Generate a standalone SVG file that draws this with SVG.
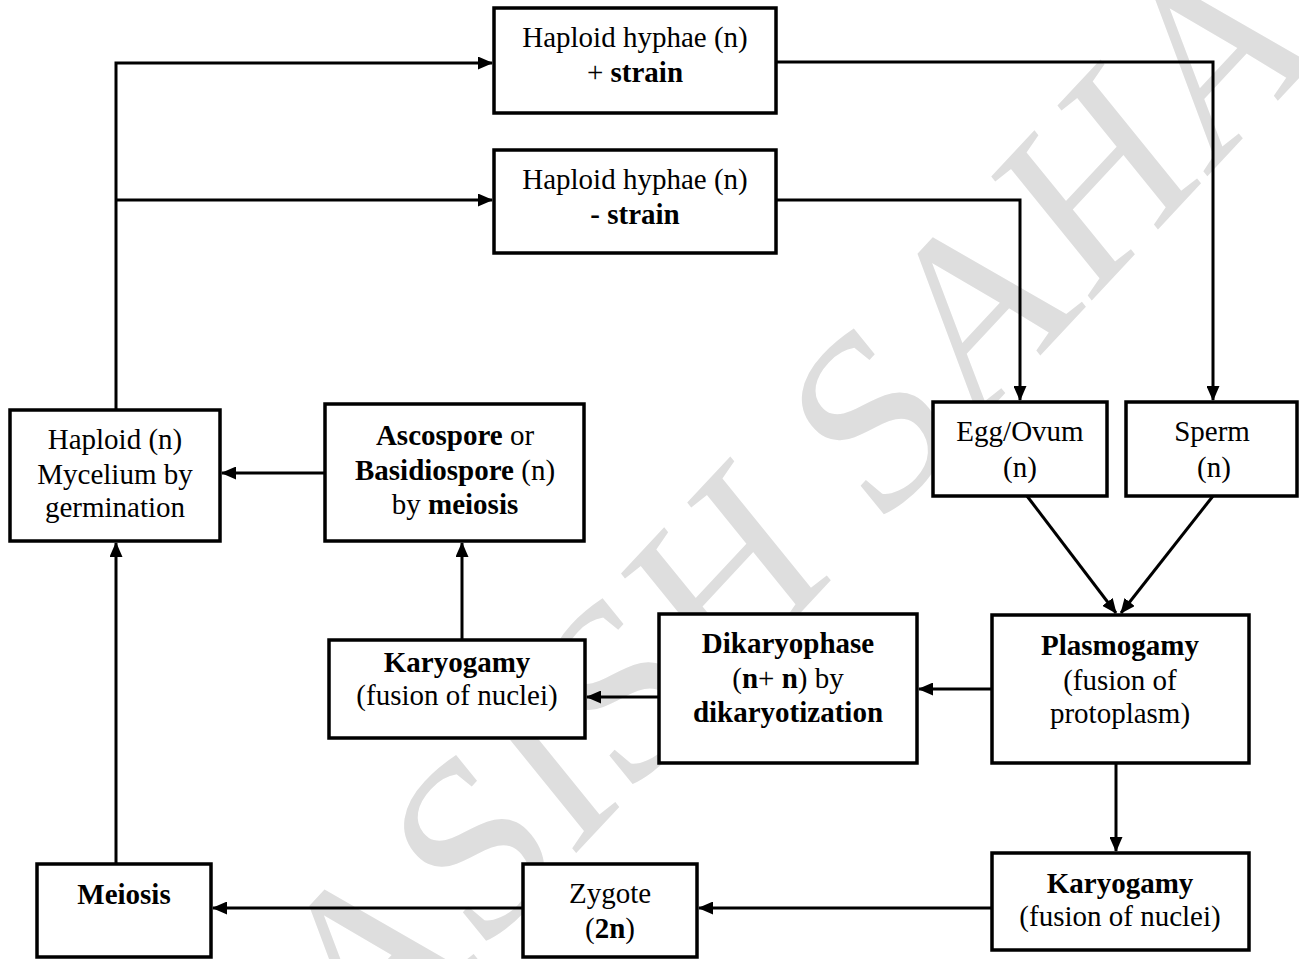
<svg xmlns="http://www.w3.org/2000/svg" width="1299" height="959" viewBox="0 0 1299 959">
<style>
.box{fill:#fff;stroke:#000;stroke-width:3.5}
.t{font-family:"Liberation Serif","Times New Roman",serif;font-size:29px;fill:#000;text-anchor:middle}
.b{font-weight:bold}
.c{fill:none;stroke:#000;stroke-width:3}
.wm{font-family:"Liberation Serif","Times New Roman",serif;font-size:225px;fill:#dedede}
</style>
<defs>
<marker id="ah" markerUnits="userSpaceOnUse" markerWidth="15" markerHeight="13" refX="14" refY="6.5" orient="auto">
<path d="M0,0 L15,6.5 L0,13 z" fill="#000"/>
</marker>
</defs>
<rect width="1299" height="959" fill="#fff"/>
<text class="wm" transform="translate(360,1085) scale(1,1.15) rotate(-43)">ASISH SAHA</text>
<g id="connectors">
<path class="c" d="M116 410 V63 H492" marker-end="url(#ah)"/>
<path class="c" d="M116 200 H492" marker-end="url(#ah)"/>
<path class="c" d="M776 62 H1213 V400" marker-end="url(#ah)"/>
<path class="c" d="M776 200 H1020 V400" marker-end="url(#ah)"/>
<path class="c" d="M1027 496 L1116 613" marker-end="url(#ah)"/>
<path class="c" d="M1213 496 L1121 613" marker-end="url(#ah)"/>
<path class="c" d="M992 689 H919" marker-end="url(#ah)"/>
<path class="c" d="M659 697 H587" marker-end="url(#ah)"/>
<path class="c" d="M462 640 V543" marker-end="url(#ah)"/>
<path class="c" d="M325 473 H222" marker-end="url(#ah)"/>
<path class="c" d="M1116 763 V851" marker-end="url(#ah)"/>
<path class="c" d="M992 908 H699" marker-end="url(#ah)"/>
<path class="c" d="M523 908 H213" marker-end="url(#ah)"/>
<path class="c" d="M116 864 V543" marker-end="url(#ah)"/>
</g>
<g id="hyphae-plus">
<rect class="box" x="494" y="8" width="282" height="105"/>
<text class="t" x="635" y="47">Haploid hyphae (n)</text>
<text class="t" x="635" y="82">+ <tspan class="b">strain</tspan></text>
</g>
<g id="hyphae-minus">
<rect class="box" x="494" y="150" width="282" height="103"/>
<text class="t" x="635" y="189">Haploid hyphae (n)</text>
<text class="t b" x="635" y="224">- strain</text>
</g>
<g id="egg">
<rect class="box" x="933" y="402" width="174" height="94"/>
<text class="t" x="1020" y="441">Egg/Ovum</text>
<text class="t" x="1020" y="477">(n)</text>
</g>
<g id="sperm">
<rect class="box" x="1126" y="402" width="171" height="94"/>
<text class="t" x="1212" y="441">Sperm</text>
<text class="t" x="1214" y="477">(n)</text>
</g>
<g id="mycelium">
<rect class="box" x="10" y="410" width="210" height="131"/>
<text class="t" x="115" y="449">Haploid (n)</text>
<text class="t" x="115" y="484">Mycelium by</text>
<text class="t" x="115" y="517">germination</text>
</g>
<g id="ascospore">
<rect class="box" x="325" y="404" width="259" height="137"/>
<text class="t" x="455" y="445"><tspan class="b">Ascospore</tspan> or</text>
<text class="t" x="455" y="480"><tspan class="b">Basidiospore</tspan> (n)</text>
<text class="t" x="455" y="514">by <tspan class="b">meiosis</tspan></text>
</g>
<g id="karyogamy-1">
<rect class="box" x="329" y="640" width="256" height="98"/>
<text class="t b" x="457" y="672">Karyogamy</text>
<text class="t" x="457" y="705">(fusion of nuclei)</text>
</g>
<g id="dikaryophase">
<rect class="box" x="659" y="614" width="258" height="149"/>
<text class="t b" x="788" y="653">Dikaryophase</text>
<text class="t" x="788" y="688">(<tspan class="b">n</tspan>+ <tspan class="b">n</tspan>) by</text>
<text class="t b" x="788" y="722">dikaryotization</text>
</g>
<g id="plasmogamy">
<rect class="box" x="992" y="615" width="257" height="148"/>
<text class="t b" x="1120" y="655">Plasmogamy</text>
<text class="t" x="1120" y="690">(fusion of</text>
<text class="t" x="1120" y="723">protoplasm)</text>
</g>
<g id="karyogamy-2">
<rect class="box" x="992" y="853" width="257" height="97"/>
<text class="t b" x="1120" y="893">Karyogamy</text>
<text class="t" x="1120" y="926">(fusion of nuclei)</text>
</g>
<g id="zygote">
<rect class="box" x="523" y="864" width="174" height="93"/>
<text class="t" x="610" y="903">Zygote</text>
<text class="t" x="610" y="938">(<tspan class="b">2n</tspan>)</text>
</g>
<g id="meiosis">
<rect class="box" x="37" y="864" width="174" height="93"/>
<text class="t b" x="124" y="904">Meiosis</text>
</g>
</svg>
